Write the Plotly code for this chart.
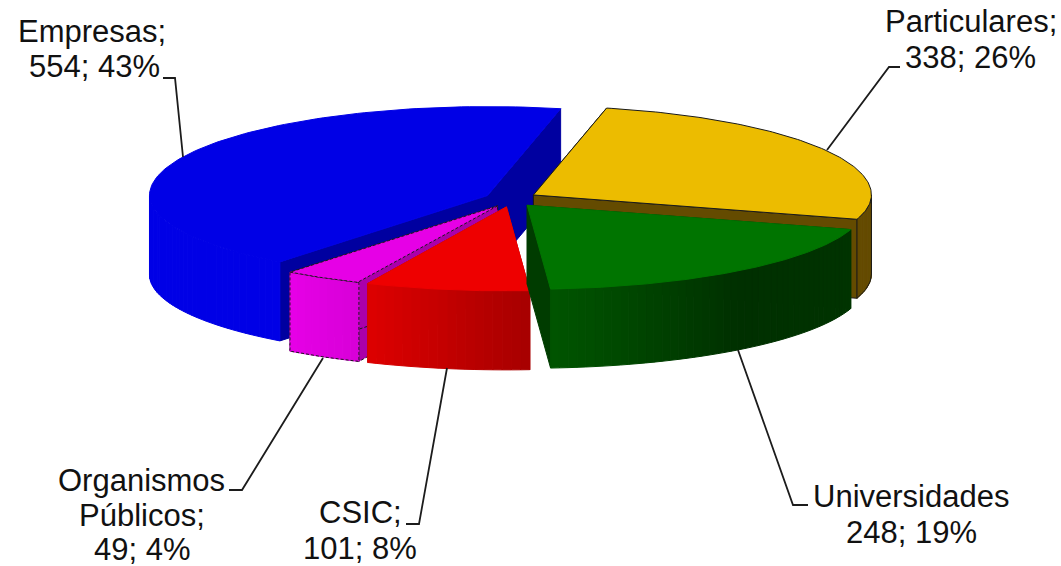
import numpy as np
import plotly.graph_objects as go

# Slice data, clockwise from the top of the pie
categories = ["Particulares", "Universidades", "CSIC", "Organismos Públicos", "Empresas"]
values = [338, 248, 101, 49, 554]

# Label text broken into lines, then the position of each line's centre
label_lines = [
    ["Particulares;"],
    ["Universidades"],
    ["CSIC;"],
    ["Organismos", "Públicos;"],
    ["Empresas;"],
]
label_xy = [
    [(971, 21), (970, 57)],
    [(911, 496), (911, 532)],
    [(360, 512), (360, 548)],
    [(141, 480), (142, 515), (142, 549)],
    [(92, 31), (94, 66)],
]
leaders = [
    [(827, 150), (889, 67), (900, 67)],
    [(738, 350), (793, 505), (808, 505)],
    [(447, 368), (419, 524), (406, 524)],
    [(323, 358), (242, 490), (229, 490)],
    [(183, 157), (175, 78), (163, 78)],
]

# Projection of the tilted disc onto the page; the near half is slightly flatter
CX, CY = 511, 199
RX = 338
RY_BACK, RY_FRONT = 89, 84
DEPTH = 79
EXPLODE_X, EXPLODE_Y = 26, 8
START_DEG = 12.5

# Wall colours run from the left of the wall to its right
styles = {
    "Particulares": dict(top="#ecbc00", wall=["#644b00", "#644b00"], side="#644b00", outline="solid"),
    "Universidades": dict(top="#007400", wall=["#005400", "#003000", "#003400"], side="#003c00", outline=None),
    "CSIC": dict(top="#ee0000", wall=["#dc0000", "#a80000"], side="#a80000", outline=None),
    "Organismos Públicos": dict(top="#e600e6", wall=["#e600e6", "#d800d8"], side="#aa00aa", outline="3px,2px"),
    "Empresas": dict(top="#0000e6", wall=["#0000e6", "#0000e6"], side="#0000a0", outline=None),
}
# Later slices overlap earlier ones
draw_order = ["Empresas", "Particulares", "Organismos Públicos", "CSIC", "Universidades"]

fig = go.Figure()


def polygon(xs, ys, fill, line=None, dash=None):
    fig.add_trace(go.Scatter(
        x=list(xs), y=list(ys), mode="lines", fill="toself", fillcolor=fill,
        line=dict(color=line or fill, width=1, dash=dash or "solid"),
        hoverinfo="skip",
    ))


def hex_rgb(code):
    return np.array([int(code[i:i + 2], 16) for i in (1, 3, 5)], dtype=float)


def ramp(colours, t):
    pos = t * (len(colours) - 1)
    i = min(int(pos), len(colours) - 2)
    mix = hex_rgb(colours[i]) * (1 - (pos - i)) + hex_rgb(colours[i + 1]) * (pos - i)
    return "rgb({},{},{})".format(*[int(round(c)) for c in mix])


total = sum(values)
spans = np.array(values) / total * 360.0
starts = START_DEG + np.concatenate([[0], np.cumsum(spans)[:-1]])
angles = {c: (s, s + w) for c, s, w in zip(categories, starts, spans)}


def rim(ax, ay, deg):
    r = np.radians(deg)
    cos = np.cos(r)
    return ax + RX * np.sin(r), ay - np.where(cos >= 0, RY_BACK, RY_FRONT) * cos


for name in draw_order:
    a0, a1 = angles[name]
    st = styles[name]
    mid = np.radians((a0 + a1) / 2)
    ax = CX + EXPLODE_X * np.sin(mid)
    ay = CY - EXPLODE_Y * np.cos(mid)
    edge = "#1a1a1a" if st["outline"] else None

    # Cut faces along both radii
    for deg in (a0, a1):
        px, py = rim(ax, ay, deg)
        polygon([ax, px, px, ax, ax], [ay, py, py + DEPTH, ay + DEPTH, ay],
                st["side"], edge, st["outline"])

    # Curved outer wall: only the half that faces the viewer, shaded in strips
    lo, hi = max(a0, 90.0), min(a1, 270.0)
    if hi > lo:
        steps = max(int((hi - lo) / 1.5), 1)
        grid = np.linspace(lo, hi, steps + 1)
        for k in range(steps):
            x0, y0 = rim(ax, ay, grid[k])
            x1, y1 = rim(ax, ay, grid[k + 1])
            # Angles grow right to left along the near side
            colour = ramp(st["wall"], 1 - k / max(steps - 1, 1))
            polygon([x0, x1, x1, x0, x0], [y0, y1, y1 + DEPTH, y0 + DEPTH, y0], colour)
        if edge:
            wx, wy = rim(ax, ay, grid)
            polygon_x = list(wx) + list(wx[::-1]) + [wx[0]]
            polygon_y = list(wy) + list((wy + DEPTH)[::-1]) + [wy[0]]
            fig.add_trace(go.Scatter(x=polygon_x, y=polygon_y, mode="lines",
                                     line=dict(color=edge, width=1, dash=st["outline"]),
                                     hoverinfo="skip"))

    # Top face
    arc = np.linspace(a0, a1, 120)
    tx, ty = rim(ax, ay, arc)
    polygon([ax, *tx, ax], [ay, *ty, ay], st["top"], edge, st["outline"])

# Leader lines
for points in leaders:
    fig.add_trace(go.Scatter(
        x=[p[0] for p in points], y=[p[1] for p in points], mode="lines",
        line=dict(color="#1c1c1c", width=1.8), hoverinfo="skip",
    ))

# Labels: category lines followed by "value; percent"
annotations = []
for name, value, lines, spots in zip(categories, values, label_lines, label_xy):
    text_lines = lines + [f"{value}; {round(value / total * 100)}%"]
    for text, (x, y) in zip(text_lines, spots):
        annotations.append(dict(
            x=x, y=y, xref="x", yref="y", text=text, showarrow=False,
            xanchor="center", yanchor="middle",
            font=dict(family="Liberation Sans", size=31, color="#111111"),
        ))

fig.update_layout(
    width=1061, height=566, margin=dict(l=0, r=0, t=0, b=0),
    paper_bgcolor="white", plot_bgcolor="white", showlegend=False,
    xaxis=dict(range=[0, 1061], visible=False, fixedrange=True),
    yaxis=dict(range=[566, 0], visible=False, fixedrange=True),
    annotations=annotations,
)
fig.write_html("out.html", config=dict(displayModeBar=False))
